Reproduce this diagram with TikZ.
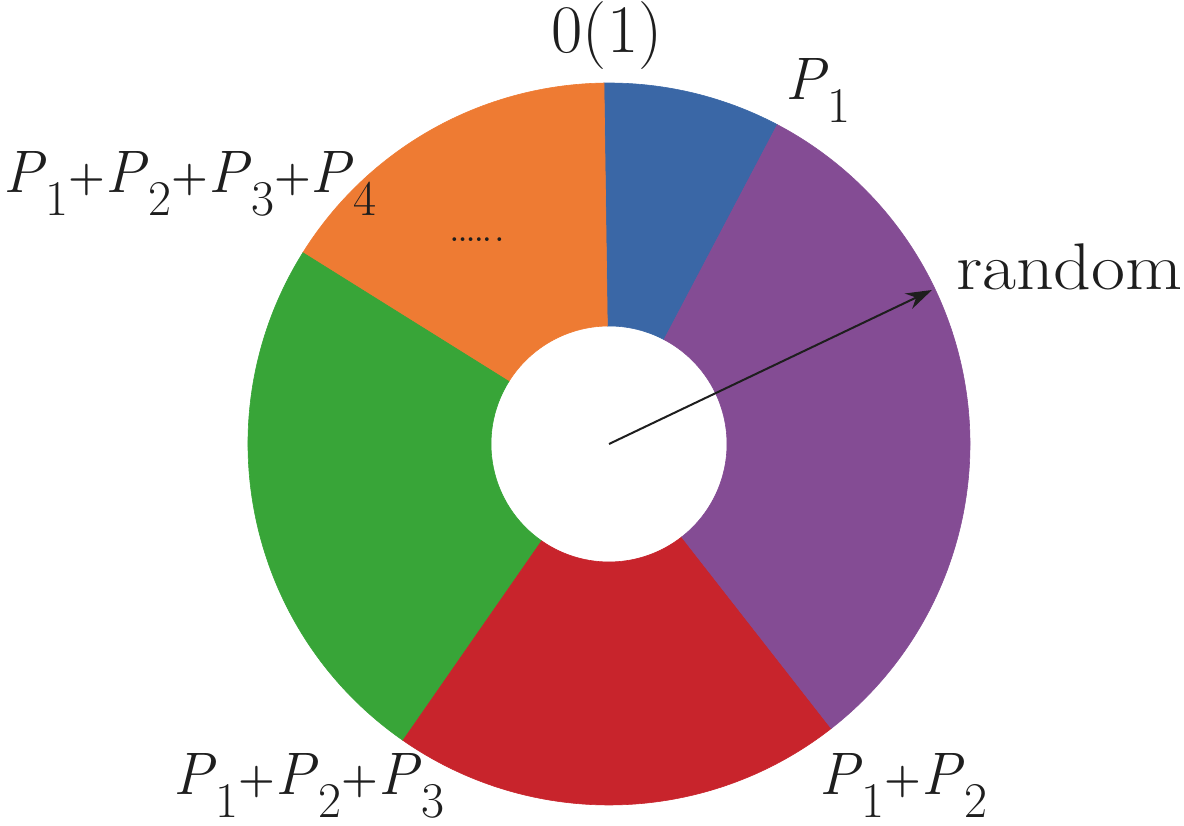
\documentclass[tikz,border=0pt]{standalone}
\usepackage{fontspec}
\usetikzlibrary{arrows.meta}
\definecolor{cblue}{HTML}{3A67A6}
\definecolor{cpurple}{HTML}{844C94}
\definecolor{cred}{HTML}{C8242C}
\definecolor{cgreen}{HTML}{38A538}
\definecolor{corange}{HTML}{EE7B33}
\definecolor{ink}{HTML}{1E1E1E}
\newcommand\psb[1]{\textit{P}\raisebox{-0.38em}{\fontsize{50}{50}\selectfont #1}}
\newcommand\plusg{{\fontsize{42}{42}\selectfont\bfseries\raisebox{0.06em}{+}}}
\begin{document}
\begin{tikzpicture}[x=1pt,y=1pt,
  lbl/.style={inner sep=0pt, outer sep=0pt, text=ink, font=\fontsize{60}{66}\selectfont},
  seg/.style={line width=0.6pt}]
\useasboundingbox (0,0) rectangle (1184,826);
\coordinate (c) at (609,382);
\begin{scope}[shift={(609,382)}]
  \fill[cblue,seg,draw=cblue] (62.2:361pt) arc[start angle=62.2,end angle=90.8,radius=361pt] -- (90.8:118pt) arc[start angle=90.8,end angle=62.2,radius=118pt] -- cycle;
  \fill[corange,seg,draw=corange] (90.8:361pt) arc[start angle=90.8,end angle=148,radius=361pt] -- (148:118pt) arc[start angle=148,end angle=90.8,radius=118pt] -- cycle;
  \fill[cgreen,seg,draw=cgreen] (148:361pt) arc[start angle=148,end angle=235.2,radius=361pt] -- (235.2:118pt) arc[start angle=235.2,end angle=148,radius=118pt] -- cycle;
  \fill[cred,seg,draw=cred] (235.2:361pt) arc[start angle=235.2,end angle=308,radius=361pt] -- (308:118pt) arc[start angle=308,end angle=235.2,radius=118pt] -- cycle;
  \fill[cpurple,seg,draw=cpurple] (-52:361pt) arc[start angle=-52,end angle=62.2,radius=361pt] -- (62.2:118pt) arc[start angle=62.2,end angle=-52,radius=118pt] -- cycle;
\end{scope}
\coordinate (tip) at (932,536);
\draw[ink,line width=2pt,-{Stealth[length=26pt,width=17pt]}] (c) -- (tip);
\node[lbl,anchor=base,font=\fontsize{68}{70}\selectfont] (zero) at (607,773) {0(1)};
\node[lbl,anchor=base west] (p1) at (785,726) {\psb{1}};
\node[lbl,anchor=base west] (p1234) at (3,633) {\psb{1}\plusg\psb{2}\plusg\psb{3}\plusg\psb{4}};
\node[lbl,anchor=base west,font=\fontsize{66}{70}\selectfont] (rand) at (956,536) {\scalebox{1.12}[1]{random}};
\node[lbl,anchor=base west] (p12) at (819,31) {\psb{1}\plusg\psb{2}};
\node[lbl,anchor=base west] (p123) at (173,31) {\psb{1}\plusg\psb{2}\plusg\psb{3}};
\node[inner sep=0pt,text=ink,font=\fontsize{26}{26}\selectfont\bfseries] (dots) at (477,586) {.....\,.};
\end{tikzpicture}
\end{document}
